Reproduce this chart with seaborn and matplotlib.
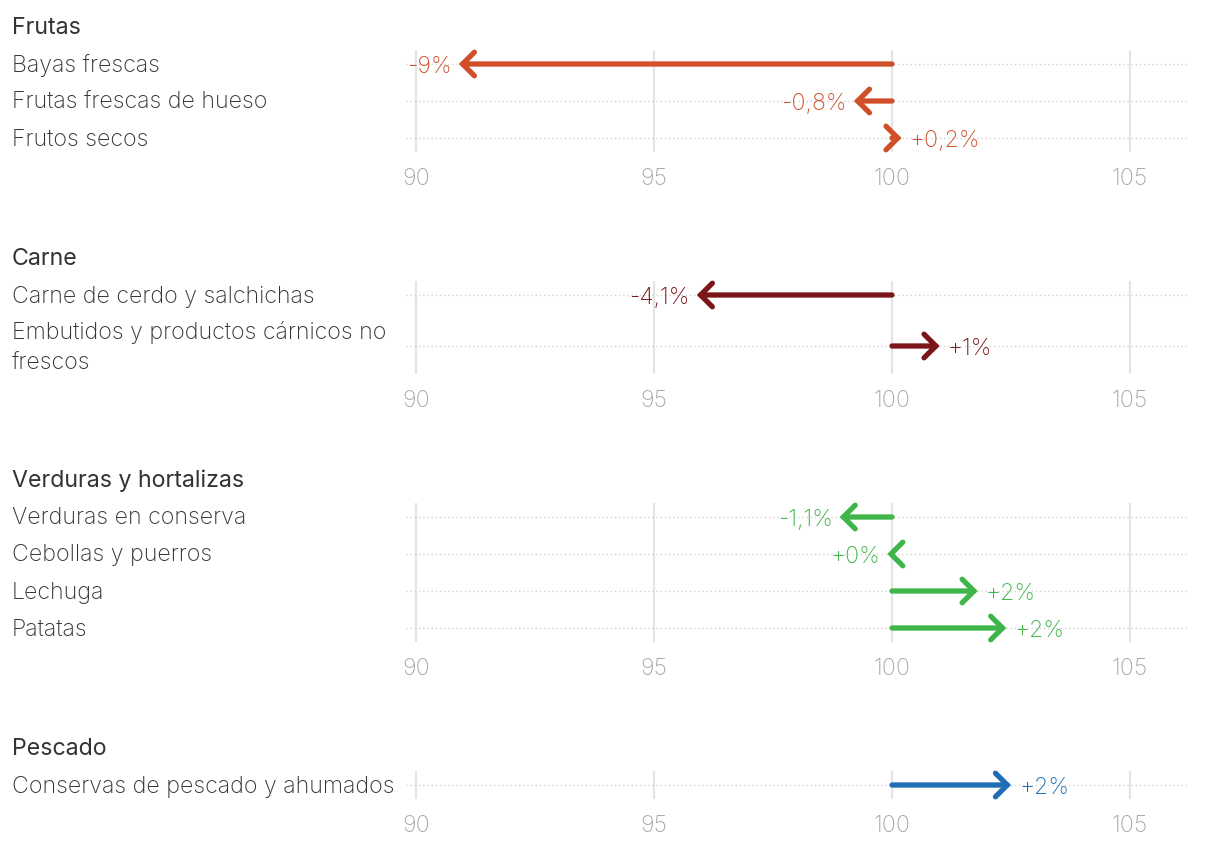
import matplotlib
matplotlib.use("Agg")
import matplotlib.pyplot as plt
import matplotlib.transforms as mtransforms
import seaborn as sns

# ---------------- data ----------------
group_names = ["Frutas", "Carne", "Verduras y hortalizas", "Pescado"]

fruit_items = ["Bayas frescas", "Frutas frescas de hueso", "Frutos secos"]
fruit_values = [90.9, 99.2, 100.2]
fruit_labels = ["-9%", "-0,8%", "+0,2%"]

meat_items = ["Carne de cerdo y salchichas",
              "Embutidos y productos cárnicos no\nfrescos"]
meat_values = [95.9, 101.0]
meat_labels = ["-4,1%", "+1%"]

veg_items = ["Verduras en conserva", "Cebollas y puerros", "Lechuga", "Patatas"]
veg_values = [98.9, 99.9, 101.8, 102.4]
veg_labels = ["-1,1%", "+0%", "+2%", "+2%"]

fish_items = ["Conservas de pescado y ahumados"]
fish_values = [102.5]
fish_labels = ["+2%"]

baseline = 100
x_ticks = [90, 95, 100, 105]

group_colors = ["#d04f29", "#7a1519", "#3fb54a", "#1f6db5"]

# ---------------- style ----------------
sns.set_theme(style="white")
plt.rcParams["font.family"] = ["Inter", "DejaVu Sans"]

W, H = 1220, 848
fig = plt.figure(figsize=(W / 100, H / 100), dpi=100)
fig.patch.set_facecolor("white")

x_left_px, x_right_px = 406, 1187
px_per_unit = (1130 - 416) / 15.0
xmin = 90 - (416 - x_left_px) / px_per_unit
xmax = 105 + (x_right_px - 1130) / px_per_unit

groups = [
    (group_names[0], fruit_items, fruit_values, fruit_labels, group_colors[0]),
    (group_names[1], meat_items, meat_values, meat_labels, group_colors[1]),
    (group_names[2], veg_items, veg_values, veg_labels, group_colors[2]),
    (group_names[3], fish_items, fish_values, fish_labels, group_colors[3]),
]

FS = 16.7
text_color = "#333333"
tick_color = "#a8a8a8"

top = 50
for name, items, values, labels, color in groups:
    nlines = [it.count("\n") + 1 for it in items]
    offsets = []
    y = 14 + 14 * (nlines[0] - 1)
    for i, n in enumerate(nlines):
        if i > 0:
            y += 37 + 14 * (nlines[i - 1] - 1) + 14 * (n - 1)
        offsets.append(y)
    height = offsets[-1] + 14 + 14 * (nlines[-1] - 1)

    ax = fig.add_axes([x_left_px / W, 1 - (top + height) / H,
                       (x_right_px - x_left_px) / W, height / H])
    ax.set_xlim(xmin, xmax)
    ax.set_ylim(height, 0)
    ax.set_facecolor("none")
    sns.despine(ax=ax, left=True, bottom=True)
    ax.set_yticks([])
    ax.set_xticks(x_ticks)
    ax.set_xticklabels([str(t) for t in x_ticks])
    ax.tick_params(axis="x", length=0, pad=11.5, labelsize=FS, labelcolor=tick_color)
    for lab in ax.get_xticklabels():
        lab.set_fontweight("light")
    ax.grid(axis="x", color="#e4e4e4", lw=1.6)
    ax.grid(axis="y", visible=False)
    ax.set_axisbelow(True)

    for yy in offsets:
        ax.axhline(yy, color="#d2d2d2", lw=1.0, ls=(0, (1, 2)), zorder=1)

    tr = mtransforms.blended_transform_factory(fig.transFigure, ax.transData)
    ax.text(12 / W, offsets[0] - 36, name, transform=tr, ha="left", va="center",
            fontsize=FS, color=text_color, fontweight="normal")
    for yy, it in zip(offsets, items):
        ax.text(12 / W, yy + 1.5, it, transform=tr, ha="left", va="center",
                fontsize=FS, color=text_color, fontweight="light",
                linespacing=1.42)

    for yy, v, lab in zip(offsets, values, labels):
        ax.annotate("", xy=(v, yy), xytext=(baseline, yy),
                    arrowprops=dict(arrowstyle="->,head_length=0.85,head_width=0.85",
                                    lw=3.8, color=color, shrinkA=0, shrinkB=0,
                                    mutation_scale=10, capstyle="round",
                                    joinstyle="miter"),
                    zorder=3)
        if v < baseline:
            ax.annotate(lab, xy=(v, yy), xytext=(-5, -2.2), textcoords="offset points",
                        ha="right", va="center", fontsize=FS, color=color,
                        fontweight="light")
        else:
            ax.annotate(lab, xy=(v, yy), xytext=(6, -2.2), textcoords="offset points",
                        ha="left", va="center", fontsize=FS, color=color,
                        fontweight="light")

    top = top + height + 129

fig.savefig("out.png", dpi=100, facecolor="white")
